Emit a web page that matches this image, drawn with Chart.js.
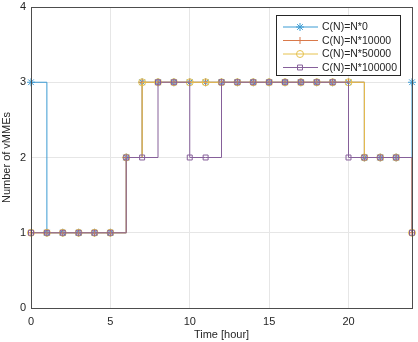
<!DOCTYPE html>
<html>
<head>
<meta charset="utf-8">
<script src="https://cdn.jsdelivr.net/npm/chart.js@4/dist/chart.umd.min.js"></script>
<style>
  html, body { margin: 0; padding: 0; background: #fff; }
  #wrap { width: 418px; height: 342px; }
</style>
</head>
<body>
<div id="wrap"><canvas id="chart" width="418" height="342"></canvas></div>
<script>
// -----------------------------
// Data
// -----------------------------
const hours = [0,1,2,3,4,5,6,7,8,9,10,11,12,13,14,15,16,17,18,19,20,21,22,23,24];
const seriesNames = ['C(N)=N*0', 'C(N)=N*10000', 'C(N)=N*50000', 'C(N)=N*100000'];
const vmmeN0      = [3,1,1,1,1,1,2,3,3,3,3,3,3,3,3,3,3,3,3,3,3,2,2,2,3];
const vmmeN10000  = [1,1,1,1,1,1,2,3,3,3,3,3,3,3,3,3,3,3,3,3,3,2,2,2,1];
const vmmeN50000  = [1,1,1,1,1,1,2,3,3,3,3,3,3,3,3,3,3,3,3,3,3,2,2,2,1];
const vmmeN100000 = [1,1,1,1,1,1,2,2,3,3,2,2,3,3,3,3,3,3,3,3,2,2,2,2,1];
const xTicks = [0, 5, 10, 15, 20];
const yTicks = [0, 1, 2, 3, 4];

const colors = ['#3b9bd3', '#d9794a', '#e6c24e', '#86609a'];
const markers = ['star', 'cross', 'circle', 'rect'];
const allSeries = [vmmeN0, vmmeN10000, vmmeN50000, vmmeN100000];

const FONT = "'Liberation Sans', Arial, sans-serif";
const TEXT = '#262626';

// MATLAB draws later series on top, chart.js draws first dataset on top -> reverse
const datasets = allSeries.map((vals, i) => ({
    label: seriesNames[i],
    data: hours.map((h, k) => ({ x: h, y: vals[k] })),
    borderColor: colors[i],
    backgroundColor: 'rgba(0,0,0,0)',
    pointBorderColor: colors[i],
    pointBackgroundColor: 'rgba(0,0,0,0)',
    pointStyle: markers[i],
    pointRadius: i === 0 ? 4 : 3.5,
    pointBorderWidth: 1,
    borderWidth: 1,
    stepped: 'before',
    clip: false
})).reverse();

// -----------------------------
// Box + legend (inside axes, top right)
// -----------------------------
const boxPlugin = {
    id: 'boxLegend',
    afterDatasetsDraw(chart) {
        const { ctx, chartArea: a } = chart;
        ctx.save();
        ctx.strokeStyle = '#4d4d4d';
        ctx.lineWidth = 1;
        ctx.strokeRect(a.left + 0.5, a.top + 0.5, a.right - a.left, a.bottom - a.top);

        // legend box
        const bx = 276, by = 15, bw = 124, bh = 60;
        ctx.fillStyle = '#fff';
        ctx.fillRect(bx, by, bw, bh);
        ctx.strokeStyle = '#262626';
        ctx.strokeRect(bx + 0.5, by + 0.5, bw, bh);

        ctx.font = '10.5px ' + FONT;
        ctx.textBaseline = 'middle';
        seriesNames.forEach((name, i) => {
            const y = by + 12 + i * 13.5;
            ctx.strokeStyle = colors[i];
            ctx.lineWidth = 1;
            ctx.beginPath();
            ctx.moveTo(bx + 7, y);
            ctx.lineTo(bx + 42, y);
            ctx.stroke();
            ctx.fillStyle = 'rgba(0,0,0,0)';
            Chart.helpers.drawPoint(ctx, {
                pointStyle: markers[i], radius: i === 0 ? 4 : 3.5, rotation: 0, borderWidth: 1
            }, bx + 24, y);
            ctx.fillStyle = TEXT;
            ctx.fillText(name, bx + 46, y + 0.5);
        });
        ctx.restore();
    }
};

// -----------------------------
// Chart.js
// -----------------------------
const ctx = document.getElementById('chart').getContext('2d');
new Chart(ctx, {
    type: 'line',
    data: { datasets: datasets },
    options: {
        responsive: false,
        animation: false,
        layout: { padding: { top: 7, right: 6, left: 0, bottom: 0 } },
        plugins: { legend: { display: false }, tooltip: { enabled: false } },
        scales: {
            x: {
                type: 'linear',
                min: 0, max: 24,
                afterFit: (s) => { s.height = 34; s.paddingLeft = 0; s.paddingRight = 0; },
                afterBuildTicks: (s) => { s.ticks = xTicks.map(v => ({ value: v })); },
                grid: { color: '#e6e6e6', drawTicks: false },
                border: { display: false },
                ticks: { color: TEXT, font: { family: FONT, size: 11 }, padding: 7, maxRotation: 0 },
                title: { display: true, text: 'Time [hour]', color: TEXT, font: { family: FONT, size: 11 }, padding: { top: 0, bottom: 0 } }
            },
            y: {
                min: 0, max: 4,
                afterFit: (s) => { s.width = 31; s.paddingTop = 0; s.paddingBottom = 0; },
                afterBuildTicks: (s) => { s.ticks = yTicks.map(v => ({ value: v })); },
                grid: { color: '#e6e6e6', drawTicks: false },
                border: { display: false },
                ticks: { color: TEXT, font: { family: FONT, size: 11 }, padding: 5 },
                title: { display: true, text: 'Number of vMMEs', color: TEXT, font: { family: FONT, size: 11 }, padding: { top: 0, bottom: 0 } }
            }
        }
    },
    plugins: [boxPlugin]
});
</script>
</body>
</html>
